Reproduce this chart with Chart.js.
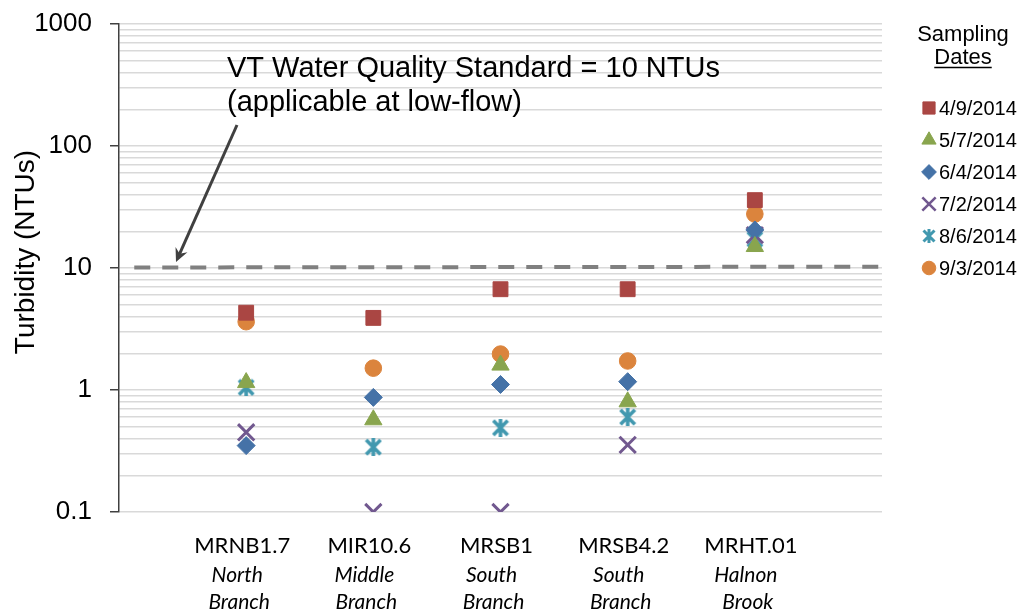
<!DOCTYPE html>
<html>
<head>
<meta charset="utf-8">
<script src="https://cdn.jsdelivr.net/npm/chart.js@4/dist/chart.umd.min.js"></script>
<style>
html,body{margin:0;padding:0;background:#fff;}
#wrap{width:1025px;height:614px;}
</style>
</head>
<body>
<div id="wrap"><canvas id="turbChart" width="1025" height="614"></canvas></div>
<script>
// sites and sampling dates
const sites = ["MRNB1.7", "MIR10.6", "MRSB1", "MRSB4.2", "MRHT.01"];
const siteNames = [["North", "Branch"], ["Middle", "Branch"], ["South", "Branch"], ["South", "Branch"], ["Halnon", "Brook"]];
const dates = ["4/9/2014", "5/7/2014", "6/4/2014", "7/2/2014", "8/6/2014", "9/3/2014"];

// turbidity (NTU) per site, one array per sampling date
const apr9 = [4.3, 3.9, 6.7, 6.7, 36];
const may7 = [1.15, 0.57, 1.6, 0.8, 15];
const jun4 = [0.35, 0.87, 1.11, 1.17, 20.5];
const jul2 = [0.45, 0.1, 0.1, 0.355, 18.6];
const aug6 = [1.05, 0.34, 0.49, 0.6, 17.2];
const sep3 = [3.63, 1.51, 1.97, 1.73, 27.7];
const series = [apr9, may7, jun4, jul2, aug6, sep3];

const yTickLabels = [0.1, 1, 10, 100, 1000];

// VT standard line (10 NTU)
const standardX = [0.12, 6];
const standardY = [10.1, 10.25];

const FONT = '"Liberation Sans", Arial, sans-serif';
const LABEL_FONT = 'Lato, "Open Sans", sans-serif';

function makeStar(color, size, lw){
    const c = document.createElement("canvas");
    c.width = size; c.height = size;
    const g = c.getContext("2d");
    g.strokeStyle = color;
    g.lineWidth = lw;
    const m = lw/2, s = size;
    g.beginPath();
    g.moveTo(m, m); g.lineTo(s-m, s-m);
    g.moveTo(s-m, m); g.lineTo(m, s-m);
    g.moveTo(s/2, 0); g.lineTo(s/2, s);
    g.stroke();
    return c;
}

const markers = [
    {color:"#AA4643", style:"rect", r:10.5, bw:1},
    {color:"#89A54E", style:"triangle", r:10, bw:1},
    {color:"#4572A7", style:"rectRot", r:9, bw:1},
    {color:"#71588F", style:"crossRot", r:11.5, bw:3},
    {color:"#4198AF", style:makeStar("#4198AF", 18, 3.6), legendStyle:makeStar("#4198AF", 14, 3), r:8, bw:1},
    {color:"#DB843D", style:"circle", r:8.3, bw:1}
];

const datasets = series.map((vals, i) => ({
    label: dates[i],
    data: vals.map((v, j) => ({x: j + 1, y: v})),
    pointStyle: markers[i].style,
    pointRadius: markers[i].r,
    pointBorderWidth: markers[i].bw,
    pointBackgroundColor: markers[i].color,
    pointBorderColor: markers[i].color,
    showLine: false,
    order: 1
}));

datasets.push({
    type: "line",
    label: "standard",
    data: standardX.map((x, i) => ({x: x, y: standardY[i]})),
    borderColor: "#808080",
    borderWidth: 4,
    borderDash: [16, 12],
    borderCapStyle: "butt",
    pointRadius: 0,
    fill: false,
    order: 10
});

const yTicks = [];
for (let d = 0; d < yTickLabels.length - 1; d++){
    for (let k = 1; k < 10; k++) yTicks.push(k * yTickLabels[d]);
}
yTicks.push(yTickLabels[yTickLabels.length - 1]);

const extras = {
    id: "extras",
    afterDraw(chart){
        const {ctx, chartArea: area, scales: {x}} = chart;
        ctx.save();

        // y axis title
        ctx.save();
        ctx.translate(26, 252);
        ctx.rotate(-Math.PI / 2);
        ctx.font = "28px " + FONT;
        ctx.fillStyle = "#000";
        ctx.textAlign = "center";
        ctx.textBaseline = "middle";
        ctx.fillText("Turbidity (NTUs)", 0, 0);
        ctx.restore();

        // annotation
        ctx.font = "29px " + FONT;
        ctx.fillStyle = "#000";
        ctx.textAlign = "left";
        ctx.textBaseline = "alphabetic";
        ctx.fillText("VT Water Quality Standard = 10 NTUs", area.left + 108, area.top + 53);
        ctx.fillText("(applicable at low-flow)", area.left + 108, area.top + 87);

        // arrow
        const ax0 = area.left + 118, ay0 = area.top + 101;
        const ax1 = area.left + 57, ay1 = area.top + 238;
        const ang = Math.atan2(ay1 - ay0, ax1 - ax0);
        ctx.strokeStyle = "#404040";
        ctx.fillStyle = "#404040";
        ctx.lineWidth = 3;
        ctx.beginPath();
        ctx.moveTo(ax0, ay0);
        ctx.lineTo(ax1 - Math.cos(ang) * 8, ay1 - Math.sin(ang) * 8);
        ctx.stroke();
        ctx.beginPath();
        ctx.moveTo(ax1, ay1);
        ctx.lineTo(ax1 - Math.cos(ang - 0.45) * 15, ay1 - Math.sin(ang - 0.45) * 15);
        ctx.lineTo(ax1 - Math.cos(ang) * 9, ay1 - Math.sin(ang) * 9);
        ctx.lineTo(ax1 - Math.cos(ang + 0.45) * 15, ay1 - Math.sin(ang + 0.45) * 15);
        ctx.closePath();
        ctx.fill();

        // legend
        const lx = area.right + 81;
        ctx.fillStyle = "#000";
        ctx.font = "22px " + FONT;
        ctx.textAlign = "center";
        ctx.fillText("Sampling", lx, 41);
        ctx.fillText("Dates", lx, 64);
        const dw = ctx.measureText("Dates").width;
        ctx.strokeStyle = "#000";
        ctx.lineWidth = 1.5;
        ctx.beginPath();
        ctx.moveTo(lx - dw / 2, 67.5);
        ctx.lineTo(lx + dw / 2, 67.5);
        ctx.stroke();

        ctx.font = "20px " + FONT;
        ctx.textAlign = "left";
        ctx.textBaseline = "middle";
        dates.forEach((d, i) => {
            const cy = 108 + i * 32;
            const m = markers[i];
            ctx.fillStyle = m.color;
            ctx.strokeStyle = m.color;
            ctx.lineWidth = m.bw === 3 ? 2.6 : 1;
            Chart.helpers.drawPoint(ctx, {
                pointStyle: m.legendStyle || m.style,
                rotation: 0,
                radius: m.r * 0.82,
                borderWidth: m.bw
            }, area.right + 47, cy);
            ctx.fillStyle = "#000";
            ctx.fillText(d, area.right + 57, cy + 1);
        });

        // category labels
        ctx.textAlign = "center";
        ctx.textBaseline = "alphabetic";
        ctx.fillStyle = "#000";
        sites.forEach((s, i) => {
            const px = x.getPixelForValue(i + 1) - 4;
            ctx.font = "22px " + LABEL_FONT;
            ctx.fillText(s, px, area.bottom + 41);
            ctx.font = "italic 21px " + LABEL_FONT;
            ctx.fillText(siteNames[i][0], px - 5, area.bottom + 70);
            ctx.fillText(siteNames[i][1], px - 3, area.bottom + 97);
        });

        ctx.restore();
    }
};

const ctx = document.getElementById("turbChart");
const chart = new Chart(ctx, {
    type: "scatter",
    data: {datasets: datasets},
    options: {
        responsive: false,
        animation: false,
        devicePixelRatio: 1,
        layout: {padding: {top: 24, right: 143, left: 0, bottom: 0}},
        plugins: {legend: {display: false}, tooltip: {enabled: false}},
        scales: {
            x: {
                type: "linear", min: 0, max: 6,
                ticks: {display: false},
                grid: {display: false},
                border: {display: false},
                afterFit: s => { s.height = 102; }
            },
            y: {
                type: "logarithmic", min: 0.1, max: 1000,
                afterBuildTicks: s => { s.ticks = yTicks.map(v => ({value: v})); },
                ticks: {
                    autoSkip: false,
                    padding: 18,
                    color: "#000",
                    font: {family: FONT, size: 26, lineHeight: 0.3},
                    callback: v => yTickLabels.includes(v) ? String(v) : ""
                },
                grid: {
                    color: "#d9d9d9",
                    lineWidth: 1.5,
                    tickLength: 9,
                    tickColor: c => yTickLabels.includes(c.tick.value) ? "#404040" : "rgba(0,0,0,0)"
                },
                border: {color: "#404040", width: 1.5},
                afterFit: s => { s.width = 119; }
            }
        }
    },
    plugins: [extras]
});
</script>
</body>
</html>
